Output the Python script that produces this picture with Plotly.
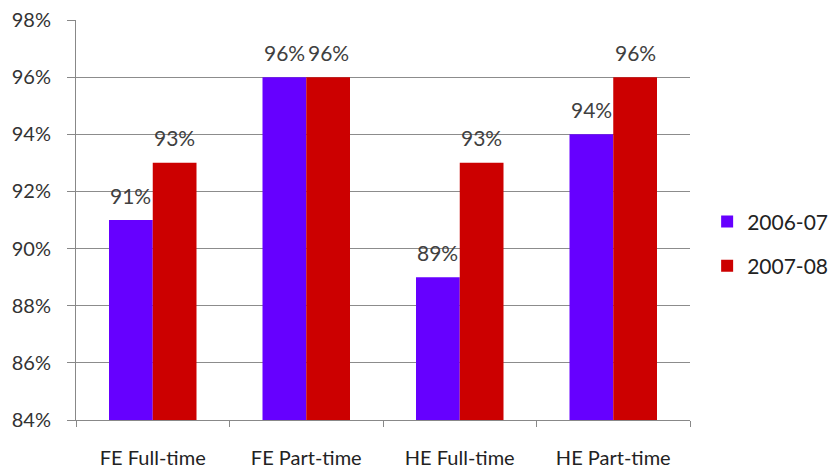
import plotly.graph_objects as go

categories = ["FE Full-time", "FE Part-time", "HE Full-time", "HE Part-time"]
series_names = ["2006-07", "2007-08"]
values_2006_07 = [0.91, 0.96, 0.89, 0.94]
values_2007_08 = [0.93, 0.96, 0.93, 0.96]
tick_values = [0.84, 0.86, 0.88, 0.90, 0.92, 0.94, 0.96, 0.98]

colors = ["#6600FF", "#CC0000"]
font_family = "Lato, 'Open Sans', sans-serif"
text_color = "#404040"
bar_px = 44  # width of one bar in pixels, used to centre value labels

fig = go.Figure()
all_series = [values_2006_07, values_2007_08]
for i, (name, vals) in enumerate(zip(series_names, all_series)):
    fig.add_trace(go.Bar(
        x=categories,
        y=vals,
        name=name,
        legendgroup=name,
        marker=dict(color=colors[i], line=dict(width=0)),
        hovertemplate="%{x}: %{y:.0%}<extra>" + name + "</extra>",
    ))

# value labels above each bar
for i, vals in enumerate(all_series):
    shift = (-0.5 if i == 0 else 0.5) * bar_px
    for cat, v in zip(categories, vals):
        fig.add_annotation(
            x=cat, y=v, text=f"{v:.0%}",
            showarrow=False, xanchor="center", yanchor="middle",
            xshift=shift, yshift=25,
            font=dict(family=font_family, size=21, color=text_color),
        )

fig.update_layout(
    width=829,
    height=468,
    margin=dict(l=76, r=139, t=20, b=48, autoexpand=False),
    paper_bgcolor="white",
    plot_bgcolor="white",
    barmode="group",
    bargap=0.43,
    bargroupgap=0,
    font=dict(family=font_family, size=20, color=text_color),
    legend=dict(
        xref="container", yref="container",
        x=0.853, y=0.479, xanchor="left", yanchor="middle",
        font=dict(size=21, color="#222222"),
        tracegroupgap=14,
        traceorder="grouped",
        itemwidth=30,
    ),
    xaxis=dict(
        showgrid=False,
        showline=True, linecolor="#888888", linewidth=1,
        ticks="outside", tickson="boundaries", ticklen=6, tickcolor="#888888",
        tickfont=dict(size=20, color="#222222"),
        ticklabelstandoff=20,
    ),
    yaxis=dict(
        range=[0.84, 0.98],
        tickvals=tick_values,
        tickformat=".0%",
        showgrid=True, gridcolor="#8C8C8C", gridwidth=1,
        showline=True, linecolor="#888888", linewidth=1,
        ticks="outside", ticklen=8, tickcolor="#888888",
        tickfont=dict(size=20, color="#333333"),
        ticklabelstandoff=12,
        zeroline=False,
    ),
)

fig.write_html("out.html")
